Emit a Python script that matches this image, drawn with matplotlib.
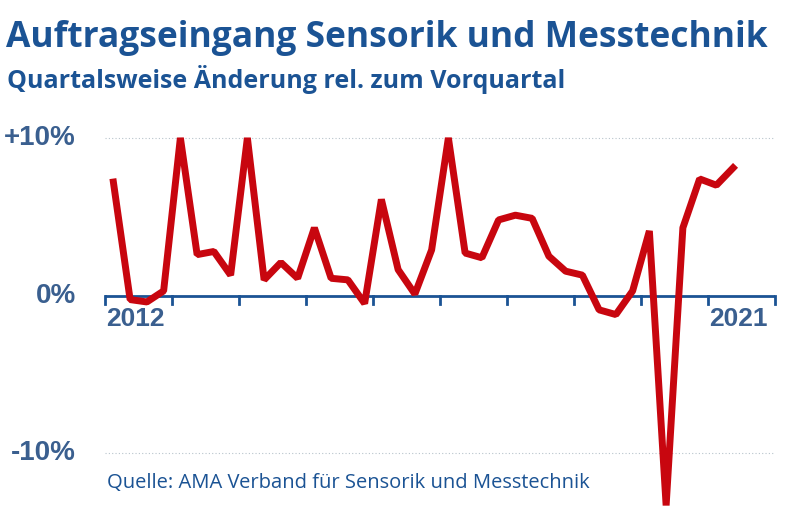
import matplotlib
matplotlib.use("Agg")
import matplotlib.pyplot as plt
import numpy as np

values = [7.2, -0.25, -0.4, 0.3, 10.0, 2.6, 2.8, 1.3, 10.0, 1.0, 2.1, 1.1, 4.3, 1.1, 1.0, -0.5,
          6.1, 1.65, 0.1, 2.9, 10.0, 2.7, 2.4, 4.8, 5.1, 4.9, 2.5, 1.55, 1.3, -0.9, -1.2, 0.3,
          4.1, -13.3, 4.3, 7.4, 7.0, 8.1]
start_year = 2012
year_labels = {2012: "2012", 2021: "2021"}
y_ticks = [10, 0, -10]
y_labels = ["+10%", "0%", "-10%"]

blue = "#1b5394"
tickblue = "#3a5f8f"
red = "#c8060f"

fig = plt.figure(figsize=(8, 5.21), dpi=100)
ax = fig.add_axes([105/800, 1-516.5/521, 670/800, (516.5-130)/521])
x = start_year + (np.arange(len(values)) + 0.5) / 4
ax.plot(x, values, color=red, lw=5, solid_joinstyle="bevel", clip_on=False, zorder=3)
ax.set_xlim(2012, 2022)
ax.set_ylim(-14, 10.5)
for s in ax.spines.values():
    s.set_visible(False)
ax.set_xticks([]); ax.set_yticks([])
for v in (10, -10):
    ax.axhline(v, color="#b8c4cc", lw=0.8, ls=(0, (1, 2)), zorder=1)
ax.axhline(0, color=blue, lw=2, zorder=2)
for yr in range(2012, 2023):
    ax.plot([yr, yr], [0, -0.55], color=blue, lw=2, zorder=2, clip_on=False)
for yr, lab in year_labels.items():
    ax.text(yr + 0.01, -0.7, lab, ha="left", va="top", fontsize=19, fontweight="bold",
            color=tickblue, family="Liberation Sans")
for v, lab in zip(y_ticks, y_labels):
    fig.text(76/800, 1-(296 - v*15.75)/521, lab, ha="right", va="center", fontsize=20,
             fontweight="bold", color=tickblue, family="Liberation Sans")

fig.text(6/800, 1-38/521, "Auftragseingang Sensorik und Messtechnik", fontsize=25.5,
         fontweight="bold", color=blue, family="Open Sans", va="center")
fig.text(7/800, 1-80/521, "Quartalsweise Änderung rel. zum Vorquartal", fontsize=18,
         fontweight="bold", color=blue, family="Open Sans", va="center")
fig.text(107/800, 1-483/521, "Quelle: AMA Verband für Sensorik und Messtechnik", fontsize=14.5,
         color=blue, family="Open Sans", va="center")
fig.savefig("out.png", dpi=100)
